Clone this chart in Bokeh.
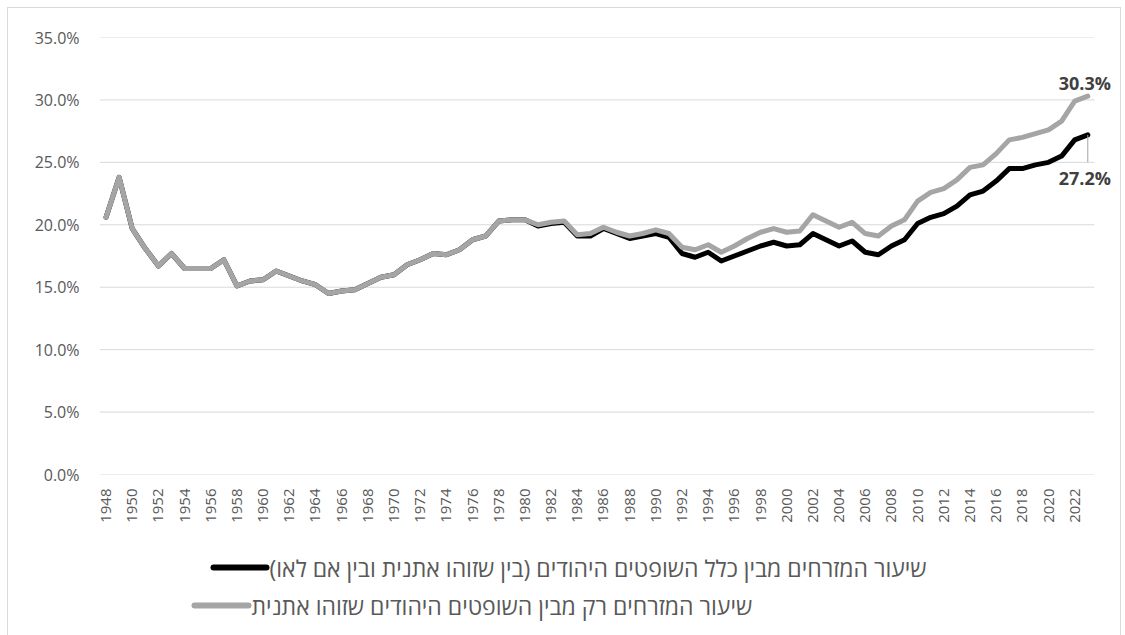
import math
import numpy as np
from bokeh.plotting import figure
from bokeh.layouts import column
from bokeh.models import Range1d, FixedTicker, NumeralTickFormatter
from bokeh.embed import file_html
from bokeh.resources import INLINE
from bokeh.core.properties import value

# ---------------- data ----------------
years = list(range(1948, 2024))
year_ticks = list(range(1948, 2024, 2))

# share of Mizrahim among ALL Jewish judges (%)
all_judges = [
    20.6, 23.8, 19.7, 18.1, 16.7, 17.7, 16.5, 16.5, 16.5, 17.2,
    15.1, 15.5, 15.6, 16.3, 15.9, 15.5, 15.2, 14.5, 14.7, 14.8,
    15.3, 15.8, 16.0, 16.8, 17.2, 17.7, 17.6, 18.0, 18.8, 19.1,
    20.3, 20.4, 20.4, 19.9, 20.1, 20.2, 19.1, 19.1, 19.7, 19.3,
    18.9, 19.1, 19.3, 19.0, 17.7, 17.4, 17.8, 17.1, 17.5, 17.9,
    18.3, 18.6, 18.3, 18.4, 19.3, 18.8, 18.3, 18.7, 17.8, 17.6,
    18.3, 18.8, 20.1, 20.6, 20.9, 21.5, 22.4, 22.7, 23.5, 24.5,
    24.5, 24.8, 25.0, 25.5, 26.8, 27.2,
]
# share of Mizrahim among ethnically identified Jewish judges only (%)
identified_judges = [
    20.6, 23.8, 19.7, 18.1, 16.7, 17.7, 16.5, 16.5, 16.5, 17.2,
    15.1, 15.5, 15.6, 16.3, 15.9, 15.5, 15.2, 14.5, 14.7, 14.8,
    15.3, 15.8, 16.0, 16.8, 17.2, 17.7, 17.6, 18.0, 18.8, 19.1,
    20.3, 20.4, 20.4, 20.0, 20.2, 20.3, 19.2, 19.3, 19.8, 19.4,
    19.1, 19.3, 19.6, 19.3, 18.2, 18.0, 18.4, 17.8, 18.3, 18.9,
    19.4, 19.7, 19.4, 19.5, 20.8, 20.3, 19.8, 20.2, 19.3, 19.1,
    19.9, 20.4, 21.9, 22.6, 22.9, 23.6, 24.6, 24.8, 25.7, 26.8,
    27.0, 27.3, 27.6, 28.3, 29.9, 30.3,
]
label_all = "שיעור המזרחים מבין כלל השופטים היהודים (בין שזוהו אתנית ובין אם לאו)"
label_identified = "שיעור המזרחים רק מבין השופטים היהודים שזוהו אתנית"

y_ticks = [0.0, 0.05, 0.10, 0.15, 0.20, 0.25, 0.30, 0.35]

# ---------------- styles ----------------
FONT = "Open Sans"
TXT = "#595959"
BLACK = "#000000"
GREY = "#a5a5a5"
GRID = "#d9d9d9"
LEFT, RIGHT = 91, 3

# ---------------- main chart ----------------
p = figure(width=1112, height=535, output_backend="svg", toolbar_location=None,
           x_range=Range1d(1947.5, 2025.27), y_range=Range1d(0, 0.35),
           min_border_left=LEFT, min_border_right=RIGHT, min_border_top=29,
           min_border_bottom=69)
p.outline_line_color = None

n = len(y_ticks)
p.segment(x0=[years[0] - 0.5] * n, y0=y_ticks, x1=[years[-1] + 0.5] * n, y1=y_ticks,
          line_color=GRID, line_width=1)

y_all = np.array(all_judges) / 100.0
y_id = np.array(identified_judges) / 100.0

p.line(years, y_all, line_color=BLACK, line_width=5, line_join="round", line_cap="round")
p.line(years, y_id, line_color=GREY, line_width=5, line_join="round", line_cap="round")

p.xgrid.grid_line_color = None
p.ygrid.grid_line_color = None
p.yaxis.ticker = FixedTicker(ticks=y_ticks)
p.yaxis.formatter = NumeralTickFormatter(format="0.0%")
p.xaxis.ticker = FixedTicker(ticks=year_ticks)
p.xaxis.major_label_orientation = math.pi / 2
for ax in (p.xaxis[0], p.yaxis[0]):
    ax.axis_line_color = None
    ax.major_tick_line_color = None
    ax.minor_tick_line_color = None
    ax.major_label_text_font = FONT
    ax.major_label_text_color = TXT
p.yaxis.major_label_text_font_size = "16px"
p.xaxis.major_label_text_font_size = "15px"
p.yaxis.major_label_standoff = 14
p.xaxis.major_label_standoff = 8

# end-point data labels
last_x = years[-1]
p.text(x=[last_x], y=[y_id[-1]], text=[f"{identified_judges[-1]:.1f}%"],
       text_align="center", text_baseline="middle", x_offset=-3, y_offset=-13,
       text_font=value(FONT), text_font_style="bold", text_font_size="18px",
       text_color="#404040")
p.segment(x0=[last_x], y0=[y_all[-1]], x1=[last_x], y1=[y_all[-1] - 0.022],
          line_color=GREY, line_width=1)
p.text(x=[last_x], y=[y_all[-1]], text=[f"{all_judges[-1]:.1f}%"],
       text_align="center", text_baseline="middle", x_offset=-3, y_offset=43,
       text_font=value(FONT), text_font_style="bold", text_font_size="18px",
       text_color="#404040")

# ---------------- legend strip (pixel coordinates) ----------------
# the column aligns this strip's frame with the chart frame, so map x to pixels
lg = figure(width=1112, height=92, output_backend="svg", toolbar_location=None,
            x_range=Range1d(LEFT, 1112 - RIGHT), y_range=Range1d(0, 92),
            x_axis_type=None, y_axis_type=None, min_border=0,
            min_border_left=LEFT, min_border_right=RIGHT)
lg.outline_line_color = None
lg.grid.grid_line_color = None

legend_rows = [
    # (swatch start, swatch end, row centre, colour, label)
    (205, 258, 68, BLACK, label_all),
    (186, 240, 30, GREY, label_identified),
]
for x0, x1, yc, col, lab in legend_rows:
    lg.segment(x0=[x0], y0=[yc], x1=[x1], y1=[yc], line_color=col, line_width=6,
               line_cap="round")
    lg.text(x=[x1 + 3], y=[yc], text=[lab + "\u200f"], text_align="left",
            text_baseline="middle", text_font=value(FONT), text_font_size="23px",
            text_color=TXT)

layout = column(p, lg, spacing=0)
layout.styles = {"outline": "1px solid #d9d9d9", "margin-left": "8px", "margin-top": "8px"}

open("out.html", "w").write(file_html(layout, INLINE))
